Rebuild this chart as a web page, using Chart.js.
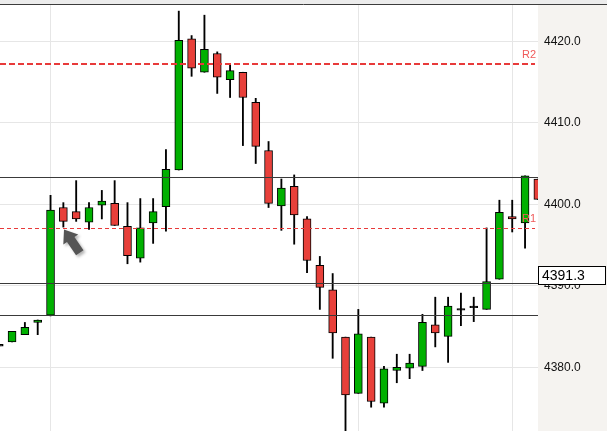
<!DOCTYPE html>
<html>
<head>
<meta charset="utf-8">
<script src="https://cdn.jsdelivr.net/npm/chart.js@4"></script>
<style>
  html, body { margin: 0; padding: 0; background: #fff; }
  #wrap { width: 607px; height: 431px; }
</style>
</head>
<body>
<div id="wrap"><canvas id="chart-area"></canvas></div>
<script>
// candle values, left to right (first and last are cut by the edges)
var opens  = [4382.6,4383.1,4384.0,4385.5,4386.4,4399.6,4399.1,4397.8,4399.9,4400.1,4397.3,4393.4,4397.7,4399.7,4404.2,4420.3,4416.2,4418.5,4415.3,4416.2,4412.5,4406.6,4399.8,4402.2,4398.2,4392.5,4389.5,4383.7,4376.8,4383.7,4375.6,4379.6,4379.9,4380.1,4385.2,4383.8,4387.0,4387.3,4387.1,4390.8,4398.5,4397.7,4403.1];
var highs  = [4382.8,4384.4,4385.5,4385.8,4401.1,4400.2,4402.9,4400.2,4401.7,4402.9,4400.2,4400.7,4400.7,4406.7,4423.7,4420.7,4423.2,4418.7,4417.1,4416.2,4413.0,4407.7,4403.1,4403.6,4398.5,4393.6,4391.5,4383.7,4387.1,4383.7,4380.1,4381.6,4381.6,4386.5,4388.6,4388.6,4389.1,4388.6,4397.1,4400.5,4400.5,4403.5,4403.1];
var lows   = [4382.6,4383.1,4384.0,4384.0,4386.3,4397.2,4397.9,4396.9,4398.2,4397.4,4392.7,4392.9,4395.2,4396.7,4404.2,4415.7,4416.2,4413.6,4413.1,4407.2,4405.0,4399.6,4396.8,4395.1,4391.6,4387.1,4381.1,4372.0,4376.8,4375.1,4375.1,4378.1,4378.6,4379.6,4382.5,4380.6,4385.1,4385.6,4387.1,4390.8,4396.6,4394.6,4400.6];
var closes = [4382.8,4384.4,4384.9,4385.8,4399.3,4397.9,4398.2,4399.6,4400.4,4397.4,4393.7,4397.1,4399.1,4404.3,4420.1,4416.7,4419.0,4415.6,4416.4,4413.1,4407.1,4400.1,4402.0,4398.7,4393.1,4389.8,4384.2,4376.6,4384.1,4375.8,4379.8,4380.0,4380.5,4385.5,4384.2,4387.5,4387.2,4387.5,4390.5,4399.0,4398.2,4403.5,4400.6];

var yTicks = [4380, 4390, 4400, 4410, 4420];
var xGridAt = [4, 28, 40];
var pivots = [{ name: 'R2', value: 4417.2, width: 2, dash: [6, 3] },
              { name: 'R1', value: 4397.1, width: 1, dash: [4, 3] }];
var levels = [4403.4, 4390.3, 4386.4];
var lastPrice = 4391.3;
var arrowAt = { x: 5.05, y: 4396.9 };

var UP = '#00b000', DOWN = '#e8403a';

var bodies = [], wicks = [], colors = [];
for (var i = 0; i < opens.length; i++) {
  bodies.push({ x: i, y: [opens[i], closes[i]] });
  wicks.push({ x: i, y: [lows[i], highs[i]] });
  var d = closes[i] - opens[i];
  colors.push(Math.abs(d) < 0.25 ? '#000' : (d > 0 ? UP : DOWN));
}

function noPad(s) {
  s.paddingTop = 0; s.paddingBottom = 0; s.paddingLeft = 0; s.paddingRight = 0;
}

var chartDecor = {
  id: 'chartDecor',
  beforeDraw: function(chart) {
    var c = chart.ctx, a = chart.chartArea;
    c.save();
    c.fillStyle = '#fff';
    c.fillRect(0, 0, chart.width, chart.height);
    c.fillStyle = '#f5f3f0';
    c.fillRect(a.right, 0, chart.width - a.right, chart.height);
    c.fillStyle = '#ececec';
    c.fillRect(0, 0, chart.width, 4);
    c.restore();
  },
  afterDatasetsDraw: function(chart) {
    var c = chart.ctx, a = chart.chartArea, y = chart.scales.y, x = chart.scales.x;
    c.save();
    // support / resistance lines
    c.strokeStyle = '#3a3a3a';
    c.lineWidth = 1;
    levels.forEach(function(v) {
      var py = Math.round(y.getPixelForValue(v)) + 0.5;
      c.beginPath(); c.moveTo(a.left, py); c.lineTo(a.right, py); c.stroke();
    });
    // pivots
    c.font = '11px "Liberation Sans", Arial, sans-serif';
    c.textAlign = 'right';
    c.textBaseline = 'bottom';
    pivots.forEach(function(p) {
      var py = Math.round(y.getPixelForValue(p.value)) + (p.width === 1 ? 0.5 : 0);
      c.strokeStyle = '#e83a3a';
      c.lineWidth = p.width;
      c.setLineDash(p.dash);
      c.beginPath(); c.moveTo(a.left, py); c.lineTo(a.right - 3, py); c.stroke();
      c.setLineDash([]);
      c.fillStyle = '#f05a5a';
      c.fillText(p.name, a.right - 2, py - 4);
    });
    // pointer arrow
    var tx = x.getPixelForValue(arrowAt.x), ty = y.getPixelForValue(arrowAt.y);
    var ang = Math.atan2(22, 15), ca = Math.cos(ang), sa = Math.sin(ang);
    var pts = [[0, 0], [12, 9], [12, 4.5], [28, 4.5], [28, -4.5], [12, -4.5], [12, -9]];
    c.shadowColor = 'rgba(0,0,0,0.3)';
    c.shadowBlur = 3;
    c.shadowOffsetX = 2;
    c.shadowOffsetY = 2;
    c.fillStyle = '#555';
    c.beginPath();
    pts.forEach(function(p, k) {
      var px = tx + p[0] * ca - p[1] * sa, py = ty + p[0] * sa + p[1] * ca;
      if (k === 0) c.moveTo(px, py); else c.lineTo(px, py);
    });
    c.closePath();
    c.fill();
    c.restore();
  },
  afterDraw: function(chart) {
    var c = chart.ctx, a = chart.chartArea, y = chart.scales.y;
    c.save();
    c.strokeStyle = '#3c3c3c';
    c.lineWidth = 1;
    c.beginPath(); c.moveTo(0, 4.5); c.lineTo(chart.width, 4.5); c.stroke();
    // last price box
    var py = Math.round(y.getPixelForValue(lastPrice));
    c.fillStyle = '#fff';
    c.fillRect(a.right, py - 9, 67, 19);
    c.strokeStyle = '#000';
    c.strokeRect(a.right + 0.5, py - 8.5, 67, 18);
    c.fillStyle = '#000';
    c.font = '14px "Liberation Sans", Arial, sans-serif';
    c.textAlign = 'left';
    c.textBaseline = 'middle';
    c.fillText(lastPrice.toFixed(1), a.right + 4, py + 1);
    c.restore();
  }
};

var config = {
  type: 'bar',
  data: {
    datasets: [{
      data: bodies,
      backgroundColor: colors,
      borderColor: '#000',
      borderWidth: 1,
      borderSkipped: false,
      barThickness: 8,
      grouped: false,
      clip: 0,
      order: 0
    }, {
      data: wicks,
      backgroundColor: '#000',
      barThickness: 1.2,
      grouped: false,
      clip: 0,
      order: 1
    }]
  },
  options: {
    responsive: true,
    maintainAspectRatio: false,
    animation: false,
    layout: { padding: { top: 5, left: 0, right: 0, bottom: 0 } },
    plugins: { legend: { display: false }, tooltip: { enabled: false } },
    scales: {
      x: {
        type: 'linear',
        offset: false,
        min: 0.06,
        max: 42.01,
        afterBuildTicks: function(s) { s.ticks = xGridAt.map(function(v) { return { value: v }; }); },
        afterFit: function(s) { s.height = 0; noPad(s); },
        ticks: { display: false },
        grid: { color: '#e6e6e6', drawTicks: false, offset: false },
        border: { display: false }
      },
      y: {
        position: 'right',
        min: 4372.18,
        max: 4424.45,
        afterBuildTicks: function(s) { s.ticks = yTicks.map(function(v) { return { value: v }; }); },
        afterFit: function(s) { s.width = 69; noPad(s); },
        ticks: {
          padding: 6,
          color: '#111',
          font: { family: '"Liberation Sans", Arial, sans-serif', size: 12 },
          callback: function(v) { return v.toFixed(1); }
        },
        grid: { color: '#e6e6e6', drawTicks: false },
        border: { display: false }
      }
    }
  },
  plugins: [chartDecor]
};

window.onload = function() {
  var ctx = document.getElementById('chart-area').getContext('2d');
  window.myChart = new Chart(ctx, config);
};
</script>
</body>
</html>
